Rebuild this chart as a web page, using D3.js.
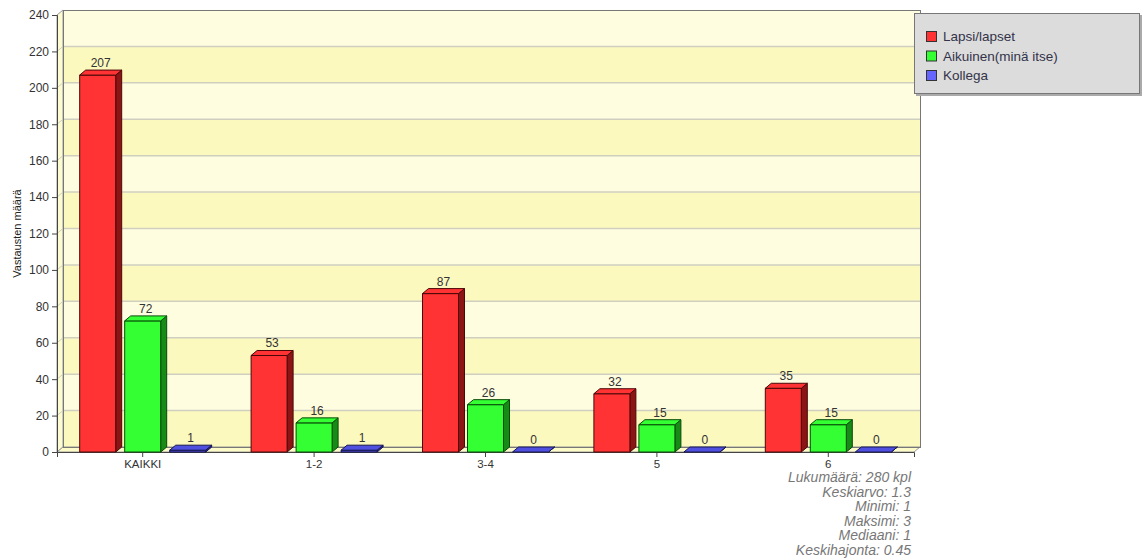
<!DOCTYPE html>
<html>
<head>
<meta charset="utf-8">
<script src="https://cdn.jsdelivr.net/npm/d3@7"></script>
<style>
  body { margin: 0; background: #fff; }
  svg { font-family: "Liberation Sans", Arial, sans-serif; display: block; }
</style>
</head>
<body>
<svg id="chart" width="1142" height="558"></svg>
<script>
const categories = ["KAIKKI", "1-2", "3-4", "5", "6"];
const seriesNames = ["Lapsi/lapset", "Aikuinen(minä itse)", "Kollega"];
const lapsi = [207, 53, 87, 32, 35];
const aikuinen = [72, 16, 26, 15, 15];
const kollega = [1, 1, 0, 0, 0];
const yTicks = [0, 20, 40, 60, 80, 100, 120, 140, 160, 180, 200, 220, 240];
const statLines = [
  "Lukumäärä: 280 kpl",
  "Keskiarvo: 1.3",
  "Minimi: 1",
  "Maksimi: 3",
  "Mediaani: 1",
  "Keskihajonta: 0.45",
];

const values = [lapsi, aikuinen, kollega];
const fills = ["#ff3333", "#33ff33", "#5050e0"];
const sides = ["#8c1414", "#168c16", "#2a2a8c"];
const strokes = ["#4a0808", "#084a08", "#141450"];
const legendFills = ["#ff3333", "#33ff33", "#6666ff"];

const dx = 6, dy = 5; // 3D depth
const svg = d3.select("#chart");

const x = d3.scaleBand().domain(categories).range([57, 914]);
const inner = d3.scaleBand().domain(d3.range(3)).range([-67.5, 67.5])
  .paddingInner(0.2).paddingOuter(0.1);
const y = d3.scaleLinear().domain([0, 240]).range([452, 15]);

// back wall bands
const wall = svg.append("g");
yTicks.slice(0, -1).forEach((t, i) => {
  wall.append("rect")
    .attr("x", 57 + dx).attr("y", y(t + 20) - dy)
    .attr("width", 914 - 57).attr("height", y(t) - y(t + 20))
    .attr("fill", i % 2 === 0 ? "#fcf9bf" : "#fffde0");
});
// left wall
wall.append("polygon")
  .attr("points", [[57, y(240)], [57 + dx, y(240) - dy], [57 + dx, y(0) - dy], [57, y(0)]].join(" "))
  .attr("fill", "#fdfbd0").attr("stroke", "#999").attr("stroke-width", 1);
// floor
wall.append("polygon")
  .attr("points", [[57, y(0)], [57 + dx, y(0) - dy], [914 + dx, y(0) - dy], [914, y(0)]].join(" "))
  .attr("fill", "#fdfbc8").attr("stroke", "#999").attr("stroke-width", 1);
// gridlines on back wall
yTicks.slice(1, -1).forEach((t) => {
  wall.append("line")
    .attr("x1", 57 + dx).attr("x2", 914 + dx)
    .attr("y1", y(t) - dy).attr("y2", y(t) - dy)
    .attr("stroke", "#cfcfc0").attr("stroke-width", 1.5);
  wall.append("line")
    .attr("x1", 57).attr("x2", 57 + dx)
    .attr("y1", y(t)).attr("y2", y(t) - dy)
    .attr("stroke", "#cfcfc0").attr("stroke-width", 1);
});
// wall outline
wall.append("rect")
  .attr("x", 57 + dx + 0.5).attr("y", y(240) - dy + 0.5)
  .attr("width", 914 - 57).attr("height", y(0) - y(240))
  .attr("fill", "none").attr("stroke", "#777").attr("stroke-width", 1);

// y axis
const yAxis = svg.append("g").attr("transform", "translate(57,0)")
  .call(d3.axisLeft(y).tickValues(yTicks).tickSize(5).tickPadding(3));
yAxis.select(".domain").attr("stroke", "#444");
yAxis.selectAll(".tick line").attr("stroke", "#444");
yAxis.selectAll("text").attr("font-size", 12).attr("fill", "#333");

svg.append("text")
  .attr("transform", `translate(21,${y(120)}) rotate(-90)`)
  .attr("text-anchor", "middle").attr("font-size", 11).attr("fill", "#222")
  .text("Vastausten määrä");

// x axis
const xAxis = svg.append("g").attr("transform", `translate(0,${y(0)})`)
  .call(d3.axisBottom(x).tickSize(5).tickPadding(3));
xAxis.select(".domain").attr("stroke", "#444");
xAxis.selectAll(".tick line").attr("stroke", "#444");
xAxis.selectAll("text").attr("font-size", 11.5).attr("fill", "#333");

// bars
const bars = svg.append("g");
categories.forEach((c, ci) => {
  values.forEach((vals, si) => {
    const v = vals[ci];
    const x0 = x(c) + x.bandwidth() / 2 + inner(si);
    const w = inner.bandwidth();
    const yv = y(v), y0 = y(0);
    const g = bars.append("g").attr("stroke", strokes[si]).attr("stroke-width", 1)
      .attr("stroke-linejoin", "round");
    g.append("polygon")
      .attr("points", [[x0 + w, yv], [x0 + w + dx, yv - dy], [x0 + w + dx, y0 - dy], [x0 + w, y0]].join(" "))
      .attr("fill", sides[si]);
    g.append("rect")
      .attr("x", x0).attr("y", yv).attr("width", w).attr("height", Math.max(0, y0 - yv))
      .attr("fill", fills[si]);
    g.append("polygon")
      .attr("points", [[x0, yv], [x0 + dx, yv - dy], [x0 + w + dx, yv - dy], [x0 + w, yv]].join(" "))
      .attr("fill", fills[si]);
    bars.append("text")
      .attr("x", x0 + w / 2 + dx / 2).attr("y", yv - dy - 3)
      .attr("text-anchor", "middle").attr("font-size", 12).attr("fill", "#333")
      .text(v);
  });
});

// legend
const lg = svg.append("g").attr("transform", "translate(914,13)");
lg.append("rect").attr("x", 2).attr("y", 2).attr("width", 226).attr("height", 81).attr("fill", "#aaa");
lg.append("rect").attr("x", 0.5).attr("y", 0.5).attr("width", 225).attr("height", 80)
  .attr("fill", "#dcdcdc").attr("stroke", "#777");
seriesNames.forEach((n, i) => {
  lg.append("rect").attr("x", 12.5).attr("y", 18.5 + i * 19.5).attr("width", 10).attr("height", 10)
    .attr("fill", legendFills[i]).attr("stroke", "#333");
  lg.append("text").attr("x", 29).attr("y", 28 + i * 19.5)
    .attr("font-size", 13.5).attr("fill", "#33334a").text(n);
});

// stats
svg.append("g").selectAll("text").data(statLines).join("text")
  .attr("x", 911).attr("y", (d, i) => 482 + i * 14.6)
  .attr("text-anchor", "end").attr("font-size", 14).attr("font-style", "italic")
  .attr("fill", "#777").text((d) => d);
</script>
</body>
</html>
